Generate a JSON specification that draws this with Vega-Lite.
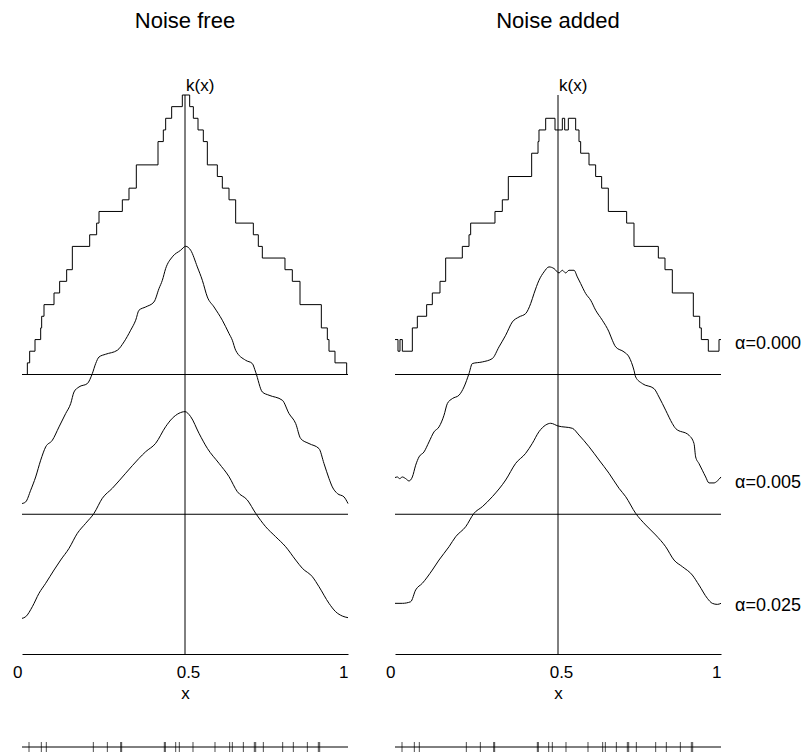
{
"$schema":"https://vega.github.io/schema/vega-lite/v6.json",
"background":"white",
"padding":{"left":12,"top":10,"right":0,"bottom":0},
"config":{"view":{"stroke":null},"font":"Liberation Sans","title":{"fontSize":22,"fontWeight":"normal","color":"black","offset":44,"font":"Liberation Sans"},"axis":{"grid":false},"text":{"font":"Liberation Sans"}},
"datasets":{
"free_a0":[{"x":0,"k":0},{"x":0.0164,"k":1},{"x":0.0235,"k":2},{"x":0.0399,"k":3},{"x":0.0573,"k":4},{"x":0.0603,"k":5},{"x":0.0675,"k":6},{"x":0.0982,"k":7},{"x":0.1155,"k":8},{"x":0.137,"k":9},{"x":0.1544,"k":11},{"x":0.2076,"k":12},{"x":0.229,"k":13},{"x":0.2362,"k":14},{"x":0.3078,"k":15},{"x":0.3282,"k":16},{"x":0.3507,"k":18},{"x":0.4172,"k":20},{"x":0.4335,"k":21},{"x":0.4407,"k":22},{"x":0.4591,"k":23},{"x":0.4918,"k":24},{"x":0.5143,"k":23},{"x":0.5256,"k":22},{"x":0.5399,"k":21},{"x":0.5562,"k":20},{"x":0.5685,"k":18},{"x":0.5992,"k":17},{"x":0.6145,"k":16},{"x":0.635,"k":15},{"x":0.6554,"k":13},{"x":0.7096,"k":12},{"x":0.7249,"k":11},{"x":0.7372,"k":10},{"x":0.8067,"k":9},{"x":0.8292,"k":8},{"x":0.8528,"k":6},{"x":0.9182,"k":4},{"x":0.9366,"k":3},{"x":0.9417,"k":2},{"x":0.9601,"k":1},{"x":0.9959,"k":0},{"x":1,"k":0}],
"free_a1":[{"x":0,"k":0.92},{"x":0.0113,"k":1.06},{"x":0.0266,"k":2.06},{"x":0.0419,"k":3.2},{"x":0.0573,"k":4.64},{"x":0.0726,"k":5.78},{"x":0.093,"k":6.35},{"x":0.1135,"k":7.5},{"x":0.134,"k":8.65},{"x":0.1493,"k":9.5},{"x":0.1595,"k":10.5},{"x":0.1748,"k":10.93},{"x":0.2004,"k":11.22},{"x":0.2157,"k":12.08},{"x":0.226,"k":12.94},{"x":0.2362,"k":13.5},{"x":0.2566,"k":13.74},{"x":0.2924,"k":14.08},{"x":0.3129,"k":14.8},{"x":0.3333,"k":15.8},{"x":0.3487,"k":16.66},{"x":0.3589,"k":17.52},{"x":0.3794,"k":17.8},{"x":0.4049,"k":18.23},{"x":0.4202,"k":19.38},{"x":0.4305,"k":20.09},{"x":0.4407,"k":21.1},{"x":0.4611,"k":22.1},{"x":0.4867,"k":22.67},{"x":0.502,"k":23.01},{"x":0.5174,"k":22.67},{"x":0.5378,"k":21.24},{"x":0.5532,"k":20.09},{"x":0.5685,"k":18.66},{"x":0.589,"k":17.8},{"x":0.6145,"k":16.66},{"x":0.635,"k":15.52},{"x":0.6452,"k":14.94},{"x":0.6554,"k":14.08},{"x":0.6861,"k":13.22},{"x":0.7065,"k":12.94},{"x":0.7168,"k":12.2},{"x":0.7372,"k":10.5},{"x":0.7577,"k":10.22},{"x":0.7986,"k":9.79},{"x":0.819,"k":8.65},{"x":0.8395,"k":7.79},{"x":0.8548,"k":6.5},{"x":0.8804,"k":6.07},{"x":0.911,"k":5.64},{"x":0.9264,"k":4.35},{"x":0.9417,"k":3.07},{"x":0.9519,"k":2.35},{"x":0.9673,"k":1.78},{"x":0.9877,"k":1.49},{"x":1,"k":0.92}],
"free_a2":[{"x":0,"k":3.06},{"x":0.0113,"k":3.2},{"x":0.0317,"k":4.06},{"x":0.0521,"k":5.21},{"x":0.0726,"k":6.07},{"x":0.0982,"k":7.21},{"x":0.1186,"k":8.07},{"x":0.1442,"k":9.07},{"x":0.1697,"k":10.36},{"x":0.1953,"k":11.22},{"x":0.2209,"k":12.08},{"x":0.2464,"k":13.37},{"x":0.2771,"k":14.23},{"x":0.318,"k":15.52},{"x":0.3589,"k":16.8},{"x":0.3794,"k":17.37},{"x":0.41,"k":18.09},{"x":0.4407,"k":19.52},{"x":0.4611,"k":20.24},{"x":0.4816,"k":20.67},{"x":0.5,"k":20.81},{"x":0.5174,"k":20.38},{"x":0.5429,"k":18.95},{"x":0.5685,"k":17.66},{"x":0.6043,"k":16.37},{"x":0.635,"k":15.23},{"x":0.6605,"k":13.94},{"x":0.6912,"k":13.22},{"x":0.7168,"k":12.08},{"x":0.7474,"k":10.93},{"x":0.7781,"k":10.07},{"x":0.8088,"k":9.21},{"x":0.8395,"k":8.07},{"x":0.8599,"k":7.36},{"x":0.8906,"k":6.64},{"x":0.911,"k":5.78},{"x":0.9417,"k":4.35},{"x":0.9622,"k":3.63},{"x":0.9826,"k":3.26},{"x":1,"k":3.12}],
"added_a0":[{"x":0,"k":3},{"x":0.0092,"k":2},{"x":0.0153,"k":3},{"x":0.0225,"k":2},{"x":0.0532,"k":4},{"x":0.0685,"k":5},{"x":0.0971,"k":6},{"x":0.1145,"k":7},{"x":0.138,"k":8},{"x":0.1554,"k":10},{"x":0.2065,"k":11},{"x":0.227,"k":12},{"x":0.2321,"k":13},{"x":0.3067,"k":14},{"x":0.3292,"k":15},{"x":0.3476,"k":17},{"x":0.4192,"k":19},{"x":0.4387,"k":20},{"x":0.4417,"k":21},{"x":0.4622,"k":22},{"x":0.4908,"k":21},{"x":0.5133,"k":22},{"x":0.5205,"k":21},{"x":0.5317,"k":22},{"x":0.5542,"k":21},{"x":0.5644,"k":20},{"x":0.5695,"k":19},{"x":0.5951,"k":18},{"x":0.6155,"k":17},{"x":0.6339,"k":16},{"x":0.6544,"k":14},{"x":0.7106,"k":13},{"x":0.7331,"k":11},{"x":0.8078,"k":10},{"x":0.8282,"k":9},{"x":0.8507,"k":7},{"x":0.9151,"k":5},{"x":0.9346,"k":4},{"x":0.9397,"k":3},{"x":0.9611,"k":2},{"x":0.9939,"k":3},{"x":1,"k":3}],
"added_a1":[{"x":0,"k":3.15},{"x":0.0072,"k":3.2},{"x":0.0143,"k":3.06},{"x":0.0225,"k":3.2},{"x":0.0327,"k":3.06},{"x":0.0429,"k":2.86},{"x":0.0532,"k":3.2},{"x":0.0634,"k":4.21},{"x":0.0736,"k":4.92},{"x":0.089,"k":5.35},{"x":0.1043,"k":6.21},{"x":0.1196,"k":7.07},{"x":0.135,"k":7.5},{"x":0.1503,"k":8.5},{"x":0.1605,"k":9.5},{"x":0.1759,"k":9.93},{"x":0.1963,"k":10.22},{"x":0.2117,"k":10.93},{"x":0.227,"k":12.08},{"x":0.2372,"k":12.94},{"x":0.2679,"k":13.08},{"x":0.2986,"k":13.37},{"x":0.319,"k":14.37},{"x":0.3395,"k":15.37},{"x":0.3599,"k":16.51},{"x":0.3804,"k":16.94},{"x":0.4008,"k":17.23},{"x":0.4162,"k":18.09},{"x":0.4264,"k":18.95},{"x":0.4417,"k":20.09},{"x":0.4571,"k":20.81},{"x":0.4724,"k":21.24},{"x":0.4877,"k":21.1},{"x":0.5031,"k":20.72},{"x":0.5133,"k":20.95},{"x":0.5235,"k":20.72},{"x":0.5337,"k":20.95},{"x":0.5491,"k":20.95},{"x":0.5593,"k":20.38},{"x":0.5695,"k":19.81},{"x":0.5849,"k":18.95},{"x":0.6002,"k":18.38},{"x":0.6155,"k":17.52},{"x":0.636,"k":16.66},{"x":0.6564,"k":15.66},{"x":0.6667,"k":14.94},{"x":0.6769,"k":14.37},{"x":0.7025,"k":13.94},{"x":0.7178,"k":13.51},{"x":0.7331,"k":12.36},{"x":0.7382,"k":11.79},{"x":0.7587,"k":11.22},{"x":0.7945,"k":10.79},{"x":0.8098,"k":10.07},{"x":0.8303,"k":8.93},{"x":0.8507,"k":7.79},{"x":0.8609,"k":7.36},{"x":0.9018,"k":6.78},{"x":0.9172,"k":6.07},{"x":0.9223,"k":4.92},{"x":0.9325,"k":4.35},{"x":0.9427,"k":3.78},{"x":0.953,"k":3.2},{"x":0.9632,"k":2.69},{"x":0.9785,"k":2.69},{"x":0.9888,"k":2.86},{"x":1,"k":3.2}],
"added_a2":[{"x":0,"k":4.35},{"x":0.0225,"k":4.35},{"x":0.0481,"k":4.49},{"x":0.0634,"k":5.5},{"x":0.0838,"k":6.07},{"x":0.1145,"k":7.21},{"x":0.135,"k":8.07},{"x":0.1656,"k":9.21},{"x":0.1861,"k":10.07},{"x":0.2168,"k":10.93},{"x":0.2423,"k":12.08},{"x":0.2679,"k":12.65},{"x":0.2986,"k":13.51},{"x":0.3395,"k":14.94},{"x":0.3702,"k":16.37},{"x":0.4008,"k":17.23},{"x":0.4213,"k":18.09},{"x":0.4417,"k":19.09},{"x":0.4622,"k":19.66},{"x":0.4775,"k":19.81},{"x":0.5,"k":19.58},{"x":0.544,"k":19.38},{"x":0.5644,"k":18.8},{"x":0.5951,"k":17.8},{"x":0.6258,"k":16.66},{"x":0.6564,"k":15.52},{"x":0.6871,"k":14.23},{"x":0.7076,"k":13.51},{"x":0.7382,"k":12.08},{"x":0.7689,"k":11.08},{"x":0.7996,"k":10.22},{"x":0.8303,"k":9.21},{"x":0.8558,"k":8.07},{"x":0.8814,"k":7.5},{"x":0.912,"k":6.78},{"x":0.9325,"k":5.92},{"x":0.9581,"k":4.78},{"x":0.9734,"k":4.35},{"x":0.9888,"k":4.26},{"x":1,"k":4.35}],
"rug":[{"x":0.0215},{"x":0.0593},{"x":0.0746},{"x":0.2188},{"x":0.2618},{"x":0.3027},{"x":0.3057},{"x":0.4366},{"x":0.4397},{"x":0.4714},{"x":0.4826},{"x":0.5245},{"x":0.592},{"x":0.637},{"x":0.6452},{"x":0.679},{"x":0.7127},{"x":0.7168},{"x":0.7403},{"x":0.7996},{"x":0.8323},{"x":0.8753},{"x":0.909},{"x":0.9131}],
"labels":[{"alpha":"a0","x":1,"k":2.6,"label":"α=0.000"},{"alpha":"a1","x":1,"k":2.7,"label":"α=0.005"},{"alpha":"a2","x":1,"k":4.1,"label":"α=0.025"}]
},
"columns":2,
"spacing":{"column":47,"row":88},
"bounds":"flush",
"concat":[
 {"title":"Noise free","width":326,"height":559,"resolve":{"scale":{"y":"independent"}},
  "layer":[
   {"layer":[
     {"data":{"name":"free_a0"},"mark":{"type":"line","interpolate":"step-after","color":"black","strokeWidth":1},"encoding":{"x":{"field":"x","type":"quantitative","scale":{"domain":[0,1],"nice":false,"zero":false},"axis":{"title":"x","values":[0,0.5,1],"format":"~g","ticks":false,"tickSize":0,"domainColor":"black","domainWidth":1,"labelColor":"black","labelFontSize":17,"labelFont":"Liberation Sans","labelPadding":10,"labelFlush":false,"labelOverlap":false,"labelAlign":{"condition":{"test":"datum.value == 0.5","value":"center"},"value":"right"},"labelOffset":{"condition":{"test":"datum.value == 0.5","value":3},"value":0},"titleFontSize":17,"titleFont":"Liberation Sans","titleFontWeight":"normal","titleColor":"black","titlePadding":5,"grid":false}},"y":{"field":"k","type":"quantitative","scale":{"domain":[-24,24],"nice":false,"zero":false},"axis":null}}},
     {"data":{"values":[{}]},"mark":{"type":"rule","color":"black","strokeWidth":1},"encoding":{"x":{"datum":0,"type":"quantitative","scale":{"domain":[0,1],"nice":false,"zero":false}},"x2":{"datum":1},"y":{"datum":0,"type":"quantitative","scale":{"domain":[-24,24],"nice":false,"zero":false},"axis":null}}},
     {"data":{"values":[{}]},"mark":{"type":"text","text":"k(x)","align":"left","baseline":"alphabetic","dx":1,"dy":-4,"fontSize":17,"color":"black"},"encoding":{"x":{"datum":0.5,"type":"quantitative","scale":{"domain":[0,1],"nice":false,"zero":false}},"y":{"datum":24,"type":"quantitative","scale":{"domain":[-24,24],"nice":false,"zero":false},"axis":null}}}
   ]},
   {"layer":[
     {"data":{"name":"free_a1"},"mark":{"type":"line","interpolate":"monotone","color":"black","strokeWidth":1},"encoding":{"x":{"field":"x","type":"quantitative","scale":{"domain":[0,1],"nice":false,"zero":false}},"y":{"field":"k","type":"quantitative","scale":{"domain":[-12,36],"nice":false,"zero":false},"axis":null}}},
     {"data":{"values":[{}]},"mark":{"type":"rule","color":"black","strokeWidth":1},"encoding":{"x":{"datum":0,"type":"quantitative","scale":{"domain":[0,1],"nice":false,"zero":false}},"x2":{"datum":1},"y":{"datum":0,"type":"quantitative","scale":{"domain":[-12,36],"nice":false,"zero":false},"axis":null}}}
   ]},
   {"layer":[
     {"data":{"name":"free_a2"},"mark":{"type":"line","interpolate":"monotone","color":"black","strokeWidth":1},"encoding":{"x":{"field":"x","type":"quantitative","scale":{"domain":[0,1],"nice":false,"zero":false}},"y":{"field":"k","type":"quantitative","scale":{"domain":[0,48],"nice":false,"zero":false},"axis":null}}}
   ]},
   {"data":{"values":[{}]},"mark":{"type":"rule","color":"black","strokeWidth":1},"encoding":{"x":{"datum":0.5,"type":"quantitative","scale":{"domain":[0,1],"nice":false,"zero":false}}}}
  ]},
 {"title":"Noise added","width":326,"height":559,"resolve":{"scale":{"y":"independent"}},
  "layer":[
   {"layer":[
     {"data":{"name":"added_a0"},"mark":{"type":"line","interpolate":"step-after","color":"black","strokeWidth":1},"encoding":{"x":{"field":"x","type":"quantitative","scale":{"domain":[0,1],"nice":false,"zero":false},"axis":{"title":"x","values":[0,0.5,1],"format":"~g","ticks":false,"tickSize":0,"domainColor":"black","domainWidth":1,"labelColor":"black","labelFontSize":17,"labelFont":"Liberation Sans","labelPadding":10,"labelFlush":false,"labelOverlap":false,"labelAlign":{"condition":{"test":"datum.value == 0.5","value":"center"},"value":"right"},"labelOffset":{"condition":{"test":"datum.value == 0.5","value":3},"value":0},"titleFontSize":17,"titleFont":"Liberation Sans","titleFontWeight":"normal","titleColor":"black","titlePadding":5,"grid":false}},"y":{"field":"k","type":"quantitative","scale":{"domain":[-24,24],"nice":false,"zero":false},"axis":null}}},
     {"data":{"values":[{}]},"mark":{"type":"rule","color":"black","strokeWidth":1},"encoding":{"x":{"datum":0,"type":"quantitative","scale":{"domain":[0,1],"nice":false,"zero":false}},"x2":{"datum":1},"y":{"datum":0,"type":"quantitative","scale":{"domain":[-24,24],"nice":false,"zero":false},"axis":null}}},
     {"data":{"values":[{}]},"mark":{"type":"text","text":"k(x)","align":"left","baseline":"alphabetic","dx":1,"dy":-4,"fontSize":17,"color":"black"},"encoding":{"x":{"datum":0.5,"type":"quantitative","scale":{"domain":[0,1],"nice":false,"zero":false}},"y":{"datum":24,"type":"quantitative","scale":{"domain":[-24,24],"nice":false,"zero":false},"axis":null}}},
     {"data":{"name":"labels"},"transform":[{"filter":"datum.alpha == 'a0'"}],"mark":{"type":"text","align":"left","baseline":"middle","dx":14,"fontSize":18,"color":"black"},"encoding":{"x":{"field":"x","type":"quantitative","scale":{"domain":[0,1],"nice":false,"zero":false}},"y":{"field":"k","type":"quantitative","scale":{"domain":[-24,24],"nice":false,"zero":false},"axis":null},"text":{"field":"label"}}}
   ]},
   {"layer":[
     {"data":{"name":"added_a1"},"mark":{"type":"line","interpolate":"monotone","color":"black","strokeWidth":1},"encoding":{"x":{"field":"x","type":"quantitative","scale":{"domain":[0,1],"nice":false,"zero":false}},"y":{"field":"k","type":"quantitative","scale":{"domain":[-12,36],"nice":false,"zero":false},"axis":null}}},
     {"data":{"values":[{}]},"mark":{"type":"rule","color":"black","strokeWidth":1},"encoding":{"x":{"datum":0,"type":"quantitative","scale":{"domain":[0,1],"nice":false,"zero":false}},"x2":{"datum":1},"y":{"datum":0,"type":"quantitative","scale":{"domain":[-12,36],"nice":false,"zero":false},"axis":null}}},
     {"data":{"name":"labels"},"transform":[{"filter":"datum.alpha == 'a1'"}],"mark":{"type":"text","align":"left","baseline":"middle","dx":14,"fontSize":18,"color":"black"},"encoding":{"x":{"field":"x","type":"quantitative","scale":{"domain":[0,1],"nice":false,"zero":false}},"y":{"field":"k","type":"quantitative","scale":{"domain":[-12,36],"nice":false,"zero":false},"axis":null},"text":{"field":"label"}}}
   ]},
   {"layer":[
     {"data":{"name":"added_a2"},"mark":{"type":"line","interpolate":"monotone","color":"black","strokeWidth":1},"encoding":{"x":{"field":"x","type":"quantitative","scale":{"domain":[0,1],"nice":false,"zero":false}},"y":{"field":"k","type":"quantitative","scale":{"domain":[0,48],"nice":false,"zero":false},"axis":null}}},
     {"data":{"name":"labels"},"transform":[{"filter":"datum.alpha == 'a2'"}],"mark":{"type":"text","align":"left","baseline":"middle","dx":14,"fontSize":18,"color":"black"},"encoding":{"x":{"field":"x","type":"quantitative","scale":{"domain":[0,1],"nice":false,"zero":false}},"y":{"field":"k","type":"quantitative","scale":{"domain":[0,48],"nice":false,"zero":false},"axis":null},"text":{"field":"label"}}}
   ]},
   {"data":{"values":[{}]},"mark":{"type":"rule","color":"black","strokeWidth":1},"encoding":{"x":{"datum":0.5,"type":"quantitative","scale":{"domain":[0,1],"nice":false,"zero":false}}}}
  ]},
 {"width":326,"height":10,"data":{"name":"rug"},
  "layer":[
   {"data":{"values":[{}]},"mark":{"type":"rule","color":"black","strokeWidth":1},"encoding":{"x":{"datum":0,"type":"quantitative","scale":{"domain":[0,1],"nice":false,"zero":false},"axis":null},"x2":{"datum":1},"y":{"datum":0,"type":"quantitative","scale":{"domain":[-1,1],"nice":false},"axis":null}}},
   {"mark":{"type":"tick","orient":"vertical","color":"black","size":10,"thickness":1},"encoding":{"x":{"field":"x","type":"quantitative","scale":{"domain":[0,1],"nice":false,"zero":false},"axis":null},"y":{"datum":0,"type":"quantitative","scale":{"domain":[-1,1],"nice":false},"axis":null}}}
  ]},
 {"width":326,"height":10,"data":{"name":"rug"},
  "layer":[
   {"data":{"values":[{}]},"mark":{"type":"rule","color":"black","strokeWidth":1},"encoding":{"x":{"datum":0,"type":"quantitative","scale":{"domain":[0,1],"nice":false,"zero":false},"axis":null},"x2":{"datum":1},"y":{"datum":0,"type":"quantitative","scale":{"domain":[-1,1],"nice":false},"axis":null}}},
   {"mark":{"type":"tick","orient":"vertical","color":"black","size":10,"thickness":1},"encoding":{"x":{"field":"x","type":"quantitative","scale":{"domain":[0,1],"nice":false,"zero":false},"axis":null},"y":{"datum":0,"type":"quantitative","scale":{"domain":[-1,1],"nice":false},"axis":null}}}
  ]}
]
}
